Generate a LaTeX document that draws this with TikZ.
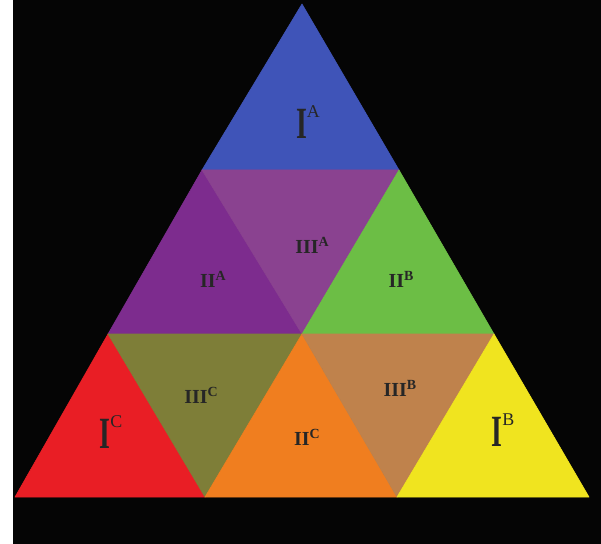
\documentclass[tikz,border=0pt]{standalone}
\usepackage{fontspec}
\setmainfont{Liberation Serif}
\usetikzlibrary{positioning,calc}
\definecolor{bgblack}{HTML}{050505}
\definecolor{zoneIA}{HTML}{3F54B8}
\definecolor{zoneIIA}{HTML}{7D2C8E}
\definecolor{zoneIIIA}{HTML}{8A4290}
\definecolor{zoneIIB}{HTML}{6CBE45}
\definecolor{zoneIC}{HTML}{E91E25}
\definecolor{zoneIIIC}{HTML}{7E7E38}
\definecolor{zoneIIC}{HTML}{F07E1F}
\definecolor{zoneIIIB}{HTML}{BF824C}
\definecolor{zoneIB}{HTML}{F0E41F}
\tikzset{
	x=1bp, y=-1bp,% one unit is one pixel of the sheet
	zone/.style = {line width=0.6pt, line join=round}, % every small triangle is filled and stroked in its own colour
	lbl/.style = {inner sep=0pt, text=black!85, align=center}
}
\newcommand{\bigzone}[2]{\scalebox{0.7}[1.12]{\fontsize{40}{40}\selectfont\bfseries #1}\raisebox{21pt}{\fontsize{18}{18}\selectfont #2}}
\newcommand{\smallzone}[2]{{\fontsize{20}{20}\selectfont\bfseries #1}\raisebox{7pt}{\fontsize{14}{14}\selectfont\bfseries #2}}

\begin{document}
\begin{tikzpicture}
            \useasboundingbox (0,0) rectangle (601,544);
            \fill[bgblack] (13,0) rectangle (601,544);
            % grid points, row by row
            \coordinate (t) at (302,4);
            \coordinate (a1) at (202,170);
            \coordinate (a2) at (399,170);
            \coordinate (b1) at (108,334);
            \coordinate (b2) at (302,334);
            \coordinate (b3) at (494,334);
            \coordinate (c1) at (15,497);
            \coordinate (c2) at (205,497);
            \coordinate (c3) at (397,497);
            \coordinate (c4) at (589,497);
            % top row
            \filldraw[zone, fill=zoneIA, draw=zoneIA] (t) -- (a1) -- (a2) -- cycle;
            % middle row
            \filldraw[zone, fill=zoneIIA, draw=zoneIIA] (a1) -- (b1) -- (b2) -- cycle;
            \filldraw[zone, fill=zoneIIIA, draw=zoneIIIA] (a1) -- (a2) -- (b2) -- cycle;
            \filldraw[zone, fill=zoneIIB, draw=zoneIIB] (a2) -- (b2) -- (b3) -- cycle;
            % bottom row
            \filldraw[zone, fill=zoneIC, draw=zoneIC] (b1) -- (c1) -- (c2) -- cycle;
            \filldraw[zone, fill=zoneIIIC, draw=zoneIIIC] (b1) -- (b2) -- (c2) -- cycle;
            \filldraw[zone, fill=zoneIIC, draw=zoneIIC] (b2) -- (c2) -- (c3) -- cycle;
            \filldraw[zone, fill=zoneIIIB, draw=zoneIIIB] (b2) -- (b3) -- (c3) -- cycle;
            \filldraw[zone, fill=zoneIB, draw=zoneIB] (b3) -- (c3) -- (c4) -- cycle;
            % labels
            \node[lbl] (IA) at (308,122) {\bigzone{I}{A}};
            \node[lbl] (IIA) at (213,279) {\smallzone{II}{A}};
            \node[lbl] (IIIA) at (312,245) {\smallzone{III}{A}};
            \node[lbl] (IIB) at (401,279) {\smallzone{II}{B}};
            \node[lbl] (IC) at (111,432) {\bigzone{I}{C}};
            \node[lbl] (IIIC) at (201,395) {\smallzone{III}{C}};
            \node[lbl] (IIC) at (307,437) {\smallzone{II}{C}};
            \node[lbl] (IIIB) at (400,388) {\smallzone{III}{B}};
            \node[lbl] (IB) at (503,430) {\bigzone{I}{B}};
        \end{tikzpicture}
\end{document}
